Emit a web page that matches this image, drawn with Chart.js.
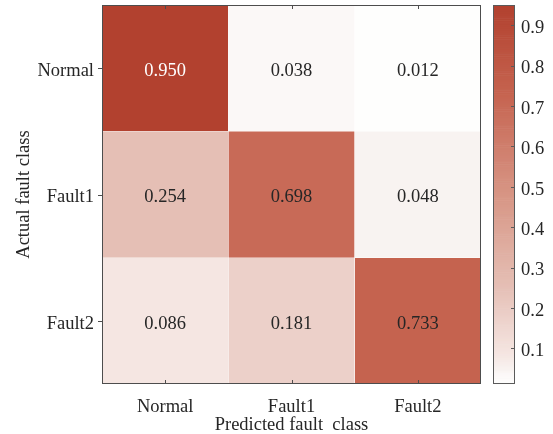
<!DOCTYPE html>
<html>
<head>
<meta charset="utf-8">
<script src="https://cdn.jsdelivr.net/npm/chart.js@4/dist/chart.umd.min.js"></script>
<style>
  html, body { margin: 0; padding: 0; background: #ffffff; }
  #wrap { width: 553px; height: 434px; }
</style>
</head>
<body>
<div id="wrap"><canvas id="cm" width="553" height="434"></canvas></div>
<script>
// Confusion matrix of the fault classifier (rows: actual, columns: predicted)
const predictedClasses = ['Normal', 'Fault1', 'Fault2'];
const actualClasses = ['Normal', 'Fault1', 'Fault2'];
const rowNormal = [0.950, 0.038, 0.012];
const rowFault1 = [0.254, 0.698, 0.048];
const rowFault2 = [0.086, 0.181, 0.733];
const colorbarTicks = [0.1, 0.2, 0.3, 0.4, 0.5, 0.6, 0.7, 0.8, 0.9];

const rows = [rowNormal, rowFault1, rowFault2];
const allValues = rows.flat();
const cMin = Math.min(...allValues);
const cMax = Math.max(...allValues);

// white-to-brick-red colour map, stops given as fractions of the colour range
const cmapStops = [
  [0.000, [254, 254, 253]],
  [0.028, [251, 248, 247]],
  [0.038, [248, 243, 241]],
  [0.079, [245, 230, 226]],
  [0.180, [236, 208, 201]],
  [0.258, [229, 191, 181]],
  [0.520, [214, 146, 129]],
  [0.732, [200, 106, 87]],
  [0.769, [197, 99, 79]],
  [1.000, [178, 65, 47]]
];
function colorFor(v) {
  const t = Math.max(0, Math.min(1, (v - cMin) / (cMax - cMin)));
  for (let i = 1; i < cmapStops.length; i++) {
    const [t1, c1] = cmapStops[i];
    const [t0, c0] = cmapStops[i - 1];
    if (t <= t1) {
      const f = (t - t0) / (t1 - t0);
      const c = c0.map((a, k) => Math.round(a + (c1[k] - a) * f));
      return `rgb(${c[0]},${c[1]},${c[2]})`;
    }
  }
  const c = cmapStops[cmapStops.length - 1][1];
  return `rgb(${c[0]},${c[1]},${c[2]})`;
}

const FONT = { family: '"Liberation Serif", "Times New Roman", serif', size: 18.5 };
const TEXT = '#262626';
const AXIS = '#4d4d4d';

// scales keep their label overhang out of the layout so the plot box stays fixed
function noOverhang(s) {
  s.paddingTop = 0; s.paddingBottom = 0; s.paddingLeft = 0; s.paddingRight = 0;
}

// each row is a stack level of unit height; bottom row first
const datasets = rows.slice().reverse().map((row, i) => ({
  label: actualClasses[rows.length - 1 - i],
  data: row.map(() => 1),
  values: row,
  backgroundColor: row.map(colorFor),
  borderColor: 'rgba(255,255,255,0.35)',
  borderWidth: 0.6,
  categoryPercentage: 1,
  barPercentage: 1
}));

const heatmapDecor = {
  id: 'heatmapDecor',
  afterDatasetsDraw(chart) {
    const { ctx, chartArea: a, scales } = chart;
    ctx.save();
    // cell values
    ctx.font = `${FONT.size}px ${FONT.family}`;
    ctx.textAlign = 'center';
    ctx.textBaseline = 'middle';
    chart.data.datasets.forEach((ds, di) => {
      chart.getDatasetMeta(di).data.forEach((bar, j) => {
        const v = ds.values[j];
        const cy = (bar.y + bar.base) / 2;
        ctx.fillStyle = (v - cMin) / (cMax - cMin) > 0.85 ? '#ffffff' : TEXT;
        ctx.fillText(v.toFixed(3), bar.x, cy + 3);
      });
    });
    // plot box
    ctx.strokeStyle = AXIS;
    ctx.lineWidth = 1;
    ctx.strokeRect(Math.round(a.left) + 0.5, Math.round(a.top) + 0.5,
      Math.round(a.right - a.left) - 1, Math.round(a.bottom - a.top) - 1);
    // tick marks
    ctx.beginPath();
    scales.y.ticks.forEach(t => {
      const py = Math.round(scales.y.getPixelForValue(t.value)) + 0.5;
      ctx.moveTo(a.left - 4, py); ctx.lineTo(a.left, py);
    });
    predictedClasses.forEach((_, i) => {
      const px = Math.round(scales.x.getPixelForValue(i)) + 0.5;
      ctx.moveTo(px, a.bottom - 1); ctx.lineTo(px, a.bottom - 4);
      ctx.moveTo(px, a.top + 1); ctx.lineTo(px, a.top + 4);
    });
    ctx.stroke();

    // colour bar drawn along the cb scale
    const cb = scales.cb;
    const x0 = Math.round(cb.left) + 12;
    const w = 22;
    const top = cb.getPixelForValue(cMax);
    const bot = cb.getPixelForValue(cMin);
    const steps = 200;
    for (let i = 0; i < steps; i++) {
      const v0 = cMin + (cMax - cMin) * i / steps;
      const v1 = cMin + (cMax - cMin) * (i + 1) / steps;
      const y0 = cb.getPixelForValue(v0);
      const y1 = cb.getPixelForValue(v1);
      ctx.fillStyle = colorFor((v0 + v1) / 2);
      ctx.fillRect(x0, y1, w, y0 - y1 + 0.6);
    }
    ctx.strokeStyle = '#5a5a5a';
    ctx.strokeRect(x0 + 0.5, Math.round(top) + 0.5, w - 1, Math.round(bot - top) - 1);
    ctx.beginPath();
    cb.ticks.forEach(t => {
      const py = Math.round(cb.getPixelForValue(t.value)) + 0.5;
      ctx.moveTo(x0 + w - 1, py); ctx.lineTo(x0 + w - 4, py);
    });
    ctx.stroke();
    ctx.restore();
  }
};

new Chart(document.getElementById('cm'), {
  type: 'bar',
  data: { labels: predictedClasses, datasets },
  options: {
    responsive: false,
    animation: false,
    layout: { padding: { top: 5, right: 0, bottom: 0, left: 0 } },
    plugins: { legend: { display: false }, tooltip: { enabled: false } },
    scales: {
      x: {
        stacked: true,
        grid: { display: false, drawTicks: false },
        border: { display: false },
        ticks: { font: FONT, color: TEXT, padding: 12 },
        title: { display: true, text: 'Predicted fault  class', font: FONT, color: TEXT, padding: { top: 0, bottom: -2 } },
        afterFit(s) { s.height = 50; noOverhang(s); }
      },
      y: {
        stacked: true,
        min: 0,
        max: 3,
        afterBuildTicks(s) { s.ticks = [0.5, 1.5, 2.5].map(v => ({ value: v })); },
        grid: { display: false, drawTicks: false },
        border: { display: false },
        ticks: {
          font: FONT, color: TEXT, padding: 8, labelOffset: 3,
          callback: v => actualClasses[actualClasses.length - 1 - Math.floor(v)]
        },
        title: { display: true, text: 'Actual fault class', font: FONT, color: TEXT, padding: { top: 13, bottom: 0 } },
        afterFit(s) { s.width = 102; noOverhang(s); }
      },
      cb: {
        type: 'linear',
        position: 'right',
        min: cMin,
        max: cMax,
        afterBuildTicks(s) { s.ticks = colorbarTicks.map(v => ({ value: v })); },
        grid: { display: false, drawTicks: true, tickLength: 38 },
        border: { display: false },
        ticks: { font: FONT, color: TEXT, padding: 2, labelOffset: 3, callback: v => v.toFixed(1) },
        afterFit(s) { s.width = 72; noOverhang(s); }
      }
    }
  },
  plugins: [heatmapDecor]
});
</script>
</body>
</html>
